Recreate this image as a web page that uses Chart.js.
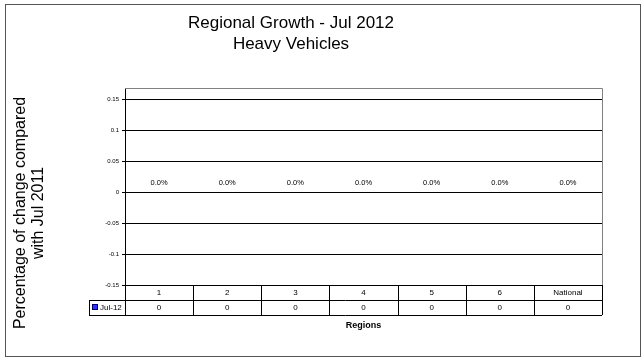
<!DOCTYPE html>
<html>
<head>
<meta charset="utf-8">
<script src="https://cdn.jsdelivr.net/npm/chart.js@4/dist/chart.umd.min.js"></script>
<style>
  html, body { margin: 0; padding: 0; background: #fff; }
  #wrap { width: 643px; height: 361px; }
</style>
</head>
<body>
<div id="wrap"><canvas id="chart"></canvas></div>
<script>
// chart data
const TITLE_LINES = ['Regional Growth - Jul 2012', 'Heavy Vehicles'];
const Y_TITLE_LINES = ['Percentage of change compared', 'with Jul 2011'];
const X_TITLE = 'Regions';
const REGIONS = ['1', '2', '3', '4', '5', '6', 'National'];
const SERIES_LABEL = 'Jul-12';
const JUL12 = [0, 0, 0, 0, 0, 0, 0];
const Y_MIN = -0.15, Y_MAX = 0.15, Y_STEP = 0.05;

const FONT = 'Arial, "Liberation Sans", sans-serif';
const BAR_COLOR = '#3333FF';

/* Frame, titles, value labels and the data table under the plot */
const decorations = {
    id: 'decorations',
    afterDraw(chart) {
        const ctx = chart.ctx;
        const area = chart.chartArea;
        const x = chart.scales.x;
        const y = chart.scales.y;
        ctx.save();

        // outer frame
        ctx.strokeStyle = '#555';
        ctx.lineWidth = 1;
        ctx.strokeRect(5.5, 4.5, 635, 352);

        // plot border, top and right
        ctx.strokeStyle = '#808080';
        ctx.beginPath();
        ctx.moveTo(area.left, area.top + 0.5);
        ctx.lineTo(area.right + 0.5, area.top + 0.5);
        ctx.lineTo(area.right + 0.5, area.bottom);
        ctx.stroke();

        // title
        ctx.fillStyle = '#000';
        ctx.textAlign = 'center';
        ctx.textBaseline = 'middle';
        ctx.font = '17px ' + FONT;
        ctx.fillText(TITLE_LINES[0], 291, 23);
        ctx.fillText(TITLE_LINES[1], 291, 44);

        // y axis title
        ctx.save();
        ctx.translate(21, 213);
        ctx.rotate(-Math.PI / 2);
        ctx.font = '16px ' + FONT;
        ctx.fillText(Y_TITLE_LINES[0], 0, 0);
        ctx.fillText(Y_TITLE_LINES[1], 0, 18);
        ctx.restore();

        // value labels
        const meta = chart.getDatasetMeta(0);
        ctx.font = '7.5px ' + FONT;
        ctx.fillStyle = '#000';
        meta.data.forEach((bar, i) => {
            const v = JUL12[i];
            ctx.fillText((v * 100).toFixed(1) + '%', bar.x, y.getPixelForValue(v) - 9);
        });

        // data table
        const colW = (area.right - area.left) / REGIONS.length;
        const top = area.bottom;
        const mid = top + 15;
        const bot = mid + 15;
        const legL = 89;
        ctx.strokeStyle = '#000';
        ctx.lineWidth = 1;
        ctx.beginPath();
        ctx.moveTo(area.left, top + 0.5); ctx.lineTo(area.right, top + 0.5);
        ctx.moveTo(legL, mid + 0.5); ctx.lineTo(area.right, mid + 0.5);
        ctx.moveTo(legL, bot + 0.5); ctx.lineTo(area.right, bot + 0.5);
        ctx.moveTo(legL + 0.5, mid); ctx.lineTo(legL + 0.5, bot);
        for (let i = 0; i <= REGIONS.length; i++) {
            const cx = Math.round(area.left + i * colW) + 0.5;
            ctx.moveTo(cx, top);
            ctx.lineTo(cx, bot);
        }
        ctx.stroke();

        ctx.font = '8px ' + FONT;
        ctx.textAlign = 'center';
        REGIONS.forEach((r, i) => {
            const cx = x.getPixelForValue(i);
            ctx.fillText(r, cx, top + 8);
            ctx.fillText(String(JUL12[i]), cx, mid + 8);
        });

        // legend key in table
        ctx.fillStyle = BAR_COLOR;
        ctx.fillRect(legL + 3, mid + 4, 6, 6);
        ctx.strokeStyle = '#000066';
        ctx.strokeRect(legL + 3.5, mid + 4.5, 5, 5);
        ctx.fillStyle = '#000';
        ctx.textAlign = 'left';
        ctx.font = '8px ' + FONT;
        ctx.fillText(SERIES_LABEL, legL + 11, mid + 8);

        // x axis title
        ctx.textAlign = 'center';
        ctx.font = 'bold 9px ' + FONT;
        ctx.fillText(X_TITLE, x.getPixelForValue(3), 326);

        ctx.restore();
    }
};

new Chart(document.getElementById('chart').getContext('2d'), {
    type: 'bar',
    data: {
        labels: REGIONS,
        datasets: [{
            label: SERIES_LABEL,
            data: JUL12,
            backgroundColor: BAR_COLOR,
            borderColor: '#000066',
            borderWidth: 1
        }]
    },
    options: {
        responsive: true,
        maintainAspectRatio: false,
        animation: false,
        layout: { padding: { left: 95, right: 41, top: 88, bottom: 76 } },
        plugins: {
            legend: { display: false },
            tooltip: { enabled: false },
            title: { display: false }
        },
        scales: {
            x: { display: false },
            y: {
                min: Y_MIN,
                max: Y_MAX + Y_STEP * 11 / 31,
                afterFit(scale) { scale.width = 30; },
                afterBuildTicks(scale) {
                    const ticks = [];
                    for (let v = Y_MIN; v <= Y_MAX + 1e-9; v += Y_STEP) {
                        ticks.push({ value: Math.round(v * 100) / 100 });
                    }
                    scale.ticks = ticks;
                },
                ticks: {
                    color: '#000',
                    font: { size: 6, family: FONT },
                    padding: 3,
                    callback: v => String(v)
                },
                grid: {
                    color: '#000',
                    lineWidth: 1,
                    tickLength: 3,
                    drawTicks: true
                },
                border: { color: '#000', width: 1 }
            }
        }
    },
    plugins: [decorations]
});
</script>
</body>
</html>
